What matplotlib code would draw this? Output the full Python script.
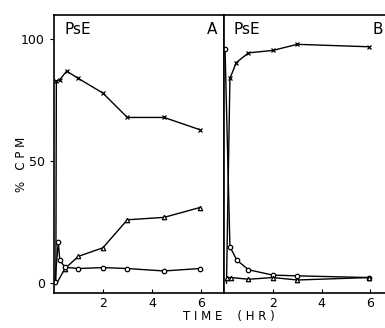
import numpy as np
import matplotlib
matplotlib.use("Agg")
import matplotlib.pyplot as plt

# Panel A (PsE)
a_cross_t = [0.08, 0.1, 0.24, 0.52, 1.0, 2.0, 3.0, 4.5, 5.95]
a_cross_y = [0, 83, 83.5, 87, 84, 78, 68, 68, 63]
a_tri_t = [0.12, 0.45, 1.0, 2.0, 3.0, 4.5, 5.95]
a_tri_y = [0, 6, 11, 14.5, 26, 27, 31]
a_circ_t = [0.04, 0.18, 0.24, 0.45, 1.0, 2.0, 3.0, 4.5, 5.95]
a_circ_y = [0.5, 17, 9.5, 6.5, 6, 6.4, 6, 5, 6]

# Panel B (PsE)
b_cross_t = [0.1, 0.24, 0.5, 1.0, 2.0, 3.0, 5.95]
b_cross_y = [0, 84, 90.5, 94.5, 95.5, 98, 97]
b_circ_t = [0.04, 0.24, 0.52, 1.0, 2.0, 3.0, 5.95]
b_circ_y = [96, 15, 9.5, 5.5, 3.3, 3, 2.3]
b_tri_t = [0.14, 0.3, 1.0, 2.0, 3.0, 5.95]
b_tri_y = [2.3, 2.3, 1.6, 2.3, 1.3, 2.3]

fig = plt.figure(figsize=(3.85, 3.28), dpi=100)
axA = fig.add_axes([0.140, 0.107, 0.442, 0.847])
axB = fig.add_axes([0.582, 0.107, 0.418, 0.847])

def serie(ax, t, y, marker, ms, skip_first=True):
    idx = list(range(1, len(t))) if skip_first else list(range(len(t)))
    ax.plot(t, y, color="black", lw=1.0, marker=marker, ms=ms,
            mfc="white", mec="black", mew=0.9, markevery=idx)

serie(axA, a_cross_t, a_cross_y, "x", 3.2)
serie(axA, a_tri_t, a_tri_y, "^", 3.2)
serie(axA, a_circ_t, a_circ_y, "o", 3.2, skip_first=False)

serie(axB, b_cross_t, b_cross_y, "x", 3.2)
serie(axB, b_circ_t, b_circ_y, "o", 3.2, skip_first=False)
serie(axB, b_tri_t, b_tri_y, "^", 3.2, skip_first=False)

for ax in (axA, axB):
    ax.set_ylim(-4, 110)
    ax.set_xticks([2, 4, 6])
    ax.tick_params(axis="x", direction="in", length=3, labelsize=9, pad=3)
    for s in ax.spines.values():
        s.set_linewidth(1.2)
    ax.text(0.06, 0.975, "PsE", transform=ax.transAxes, fontsize=11,
            ha="left", va="top")

axA.set_xlim(0, 6.95)
axB.set_xlim(0, 6.6)
axA.set_yticks([0, 50, 100])
axA.tick_params(axis="y", direction="out", length=3, labelsize=9)
axB.set_yticks([])
axB.spines["right"].set_visible(False)

axA.text(0.96, 0.975, "A", transform=axA.transAxes, fontsize=11,
         ha="right", va="top")
axB.text(0.985, 0.975, "B", transform=axB.transAxes, fontsize=11,
         ha="right", va="top")

fig.text(0.055, 0.50, "%   C P M", rotation=90, fontsize=8.5,
         ha="center", va="center")
fig.text(0.595, 0.036, "T I M E    ( H R )", fontsize=8.5,
         ha="center", va="center")

fig.savefig("out.png", dpi=100)
